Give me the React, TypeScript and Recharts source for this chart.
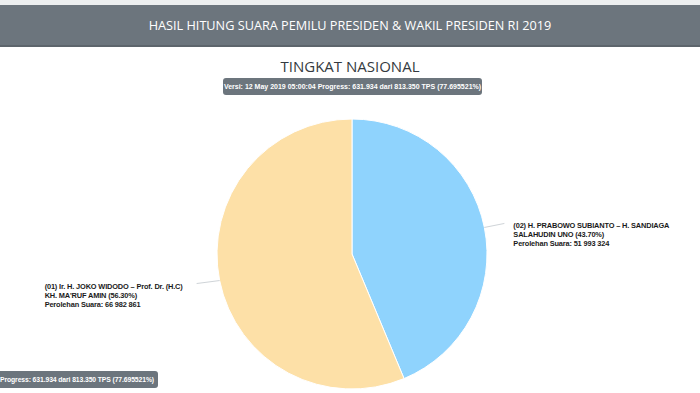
import React from 'react';
import { PieChart, Pie, Cell } from 'recharts';

const candidates = ['02', '01'];
const nameLine1 = ['(02) H. PRABOWO SUBIANTO – H. SANDIAGA', "(01) Ir. H. JOKO WIDODO – Prof. Dr. (H.C)"];
const nameLine2 = ['SALAHUDIN UNO', "KH. MA'RUF AMIN"];
const votes = [51993324, 66982861];
const sliceColors = ['#8fd3fd', '#fde0a7'];

const title = 'HASIL HITUNG SUARA PEMILU PRESIDEN & WAKIL PRESIDEN RI 2019';
const subtitle = 'TINGKAT NASIONAL';
const versionText = 'Versi: 12 May 2019 05:00:04 Progress: 631.934 dari 813.350 TPS (77.695521%)';
const progressText = 'Progress: 631.934 dari 813.350 TPS (77.695521%)';

const data = candidates.map((c, i) => ({ name: c, value: votes[i] }));

const RADIAN = Math.PI / 180;
const fmtVotes = (v: number) => v.toLocaleString('en-US').replace(/,/g, ' ');

const renderLabel = (props: any) => {
    const { cx, cy, midAngle, outerRadius, percent, index } = props;
    const cos = Math.cos(-midAngle * RADIAN);
    const sin = Math.sin(-midAngle * RADIAN);
    const ex = cx + outerRadius * cos;
    const ey = cy + outerRadius * sin;
    const right = cos >= 0;
    const lx = right ? ex + 20 : ex - 23;
    const ly = right ? ey - 4 : ey + 3;
    const tx = right ? ex + 29 : ex - 175;
    const ty = right ? ey + 1 : ey + 8;
    const pct = (percent * 100).toFixed(2);
    return (
        <g>
            <path d={`M${ex},${ey}L${lx},${ly}`} stroke="#cfd4d8" strokeWidth={1} fill="none" />
            <text x={tx} y={ty} fill="#1a1a1a" fontSize={7.4} letterSpacing={-0.15} fontWeight="bold" fontFamily="'Liberation Sans', Arial, sans-serif">
                <tspan x={tx} dy={0}>{nameLine1[index]}</tspan>
                <tspan x={tx} dy={9}>{`${nameLine2[index]} (${pct}%)`}</tspan>
                <tspan x={tx} dy={9}>{`Perolehan Suara: ${fmtVotes(votes[index])}`}</tspan>
            </text>
        </g>
    );
};

const badge: React.CSSProperties = {
    position: 'absolute',
    background: '#6c757d',
    color: '#fff',
    fontFamily: "'Liberation Sans', Arial, sans-serif",
    fontWeight: 'bold',
    fontSize: 7,
    lineHeight: '17px',
    height: 17,
    borderRadius: 3,
    whiteSpace: 'nowrap',
};

const App: React.FC = () => {
    return (
        <div style={{ position: 'absolute', left: 0, top: 0, width: 700, height: 393, overflow: 'hidden', background: '#fff' }}>
            <div style={{ position: 'absolute', left: 0, top: 0, width: 700, height: 5, background: '#eceeef' }} />
            <div
                style={{
                    position: 'absolute', left: 0, top: 5, width: 700, height: 40, background: '#6c757d',
                    borderBottom: '2px solid #5d656c',
                    color: '#fff', fontFamily: "'Open Sans', sans-serif", fontSize: 12.7, lineHeight: '40px', textAlign: 'center',
                }}
            >
                {title}
            </div>
            <PieChart width={700} height={393} margin={{ top: 0, right: 0, bottom: 0, left: 0 }} style={{ position: 'absolute', left: 0, top: 0 }}>
                <Pie
                    data={data}
                    dataKey="value"
                    cx={352}
                    cy={254}
                    outerRadius={135}
                    startAngle={90}
                    endAngle={-270}
                    stroke="#fff"
                    strokeWidth={1}
                    label={renderLabel}
                    labelLine={false}
                    isAnimationActive={false}
                >
                    {data.map((d, i) => (
                        <Cell key={d.name} fill={sliceColors[i]} />
                    ))}
                </Pie>
            </PieChart>
            <div
                style={{
                    position: 'absolute', left: 0, top: 55, width: 700, textAlign: 'center',
                    fontFamily: "'Open Sans', sans-serif", fontSize: 15, color: '#343a40', lineHeight: '22px',
                }}
            >
                {subtitle}
            </div>
            <div style={{ ...badge, left: 223, top: 78, width: 259, textAlign: 'center' }}>{versionText}</div>
            <div style={{ ...badge, left: -4, top: 371, width: 158, paddingLeft: 4, textAlign: 'left', fontSize: 6.8, letterSpacing: -0.1 }}>{progressText}</div>
        </div>
    );
};

export default App;
